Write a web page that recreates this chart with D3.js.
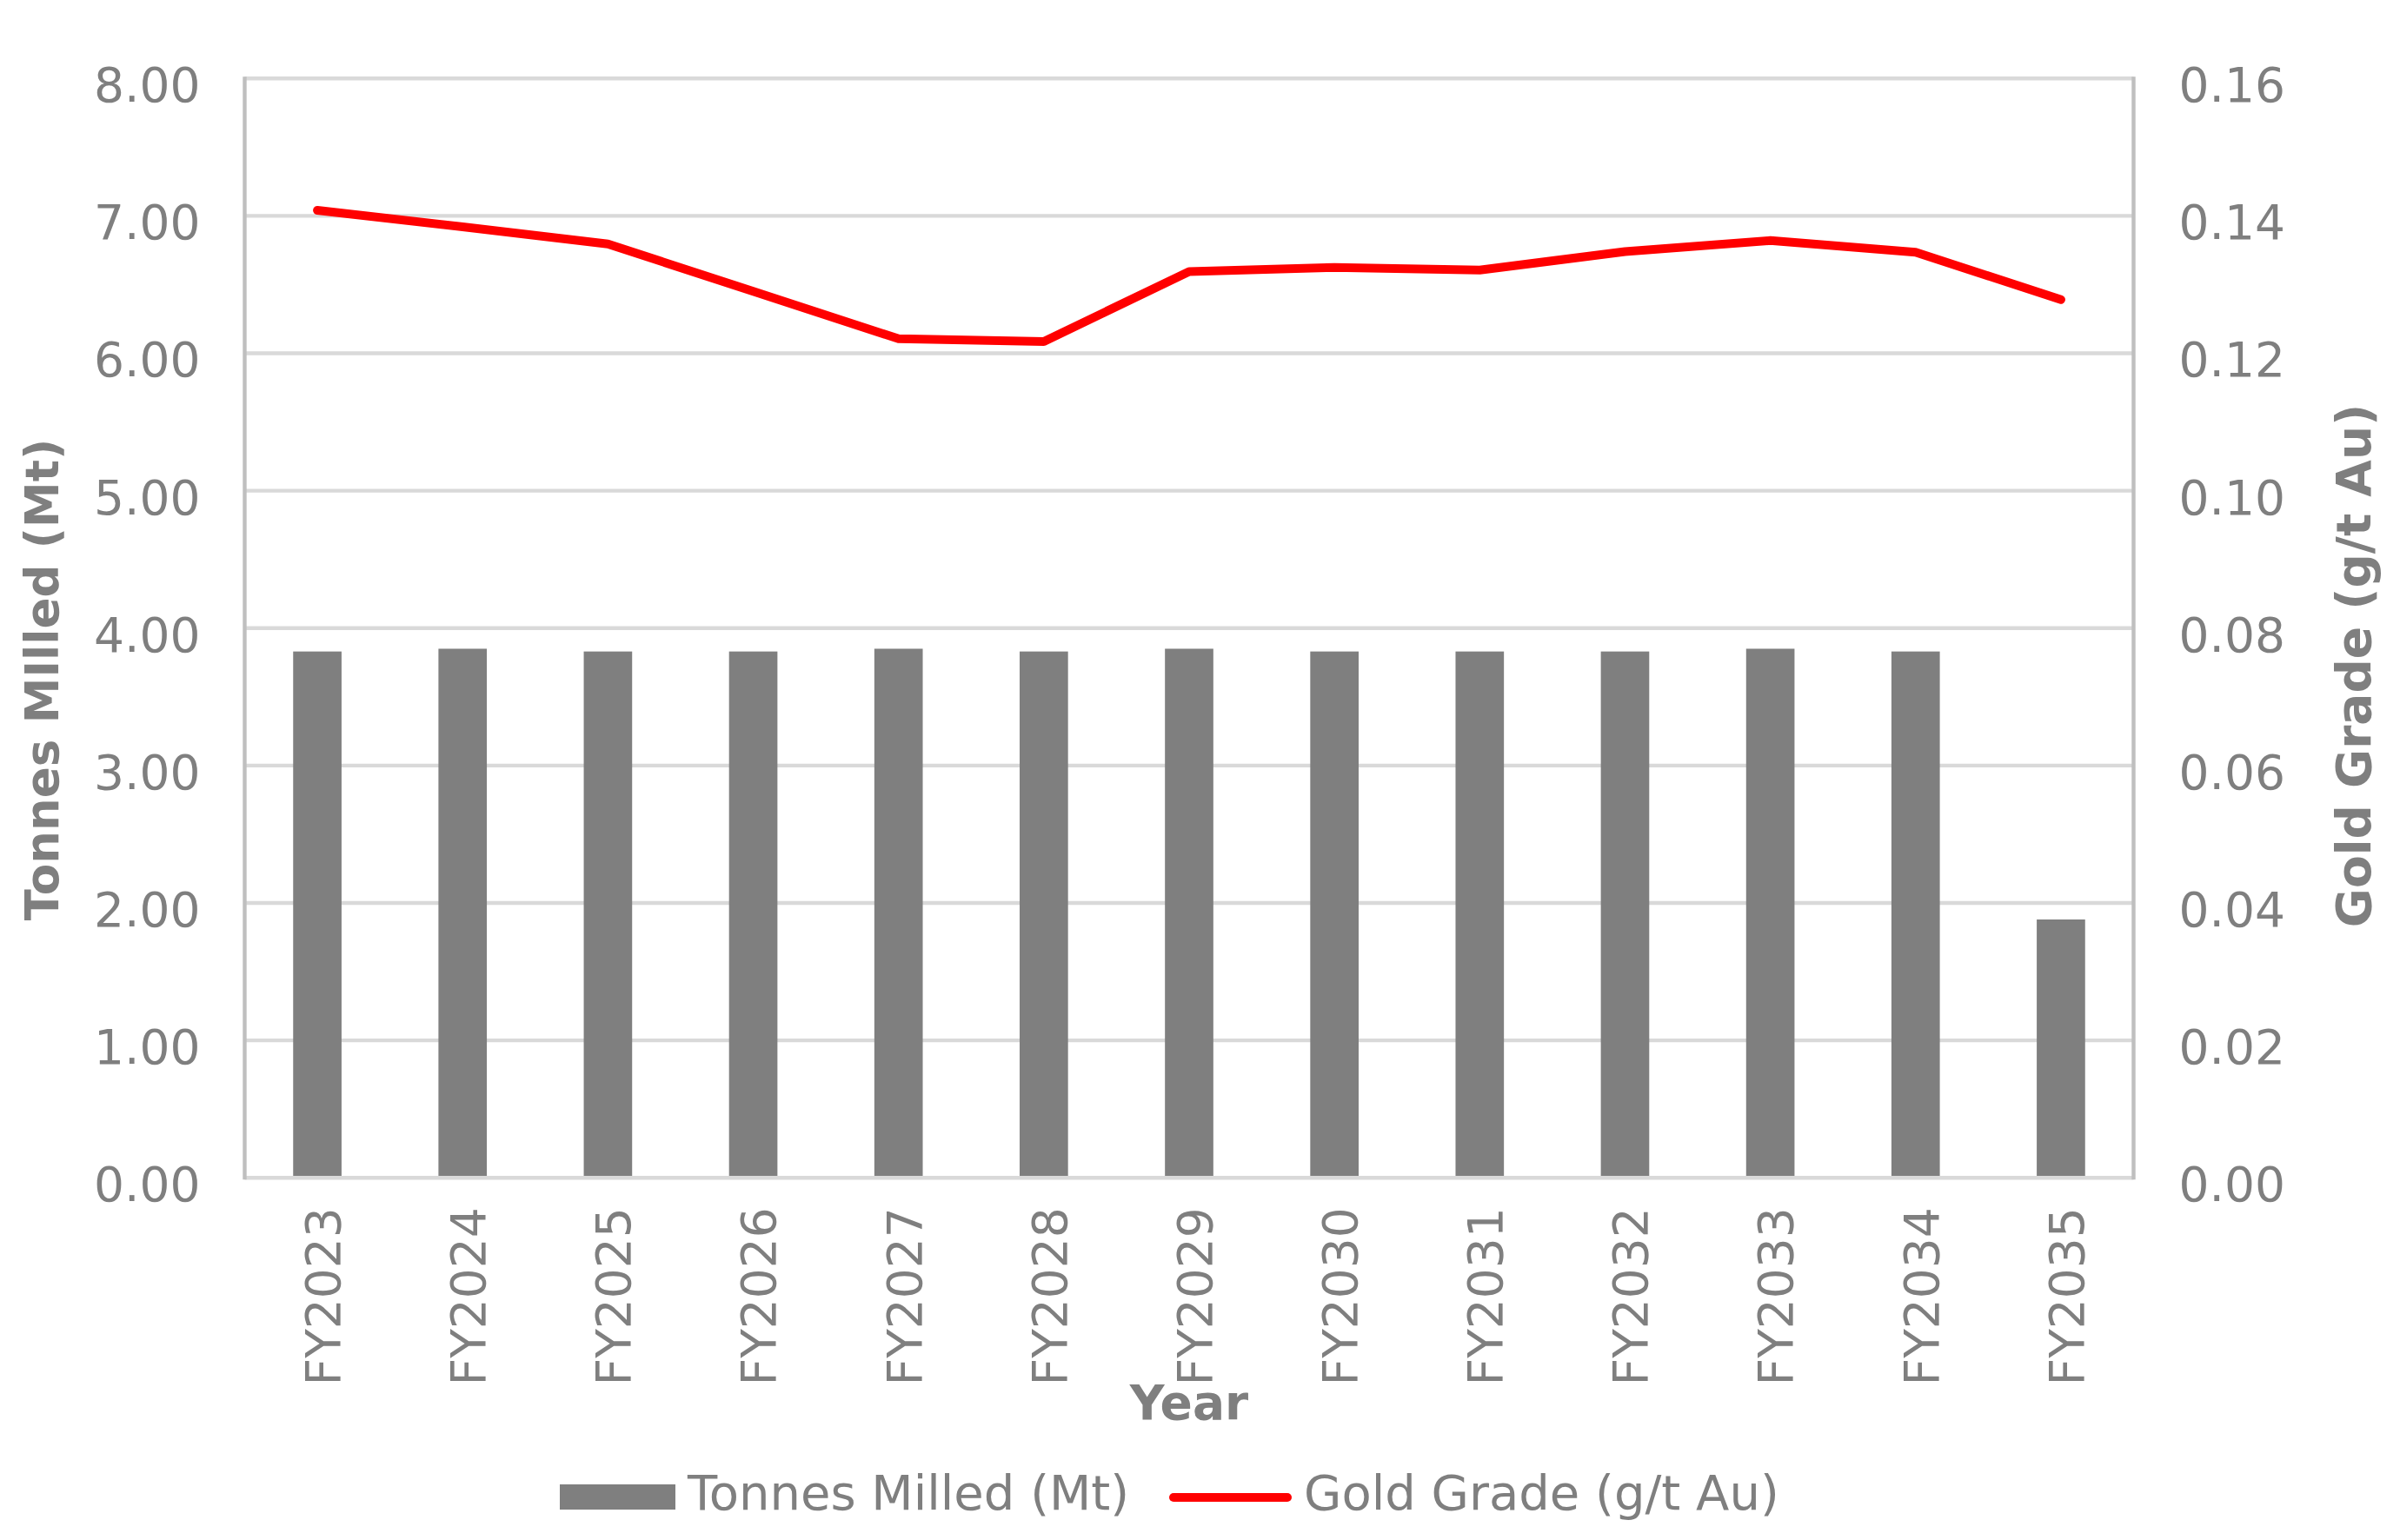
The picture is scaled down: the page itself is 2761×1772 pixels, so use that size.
<!DOCTYPE html>
<html>
<head>
<meta charset="utf-8">
<script src="https://cdn.jsdelivr.net/npm/d3@7"></script>
<style>
  html, body { margin: 0; padding: 0; background: #ffffff; }
  svg { display: block; }
  text { font-family: "DejaVu Sans", sans-serif; fill: #7f7f7f; }
</style>
</head>
<body>
<svg id="chart" width="2761" height="1772"></svg>
<script>
const categories = ["FY2023","FY2024","FY2025","FY2026","FY2027","FY2028","FY2029","FY2030","FY2031","FY2032","FY2033","FY2034","FY2035"];
const tonnesMilled = [3.83, 3.85, 3.83, 3.83, 3.85, 3.83, 3.85, 3.83, 3.83, 3.83, 3.85, 3.83, 1.88];
const goldGrade = [0.1408, 0.1384, 0.1359, 0.1290, 0.1221, 0.1217, 0.1319, 0.1325, 0.1321, 0.1348, 0.1364, 0.1347, 0.1278];
const leftTicks = [0, 1, 2, 3, 4, 5, 6, 7, 8];
const rightTicks = [0, 0.02, 0.04, 0.06, 0.08, 0.10, 0.12, 0.14, 0.16];
const seriesNames = ["Tonnes Milled (Mt)", "Gold Grade (g/t Au)"];
const leftTitle = "Tonnes MIlled (Mt)";
const rightTitle = "Gold Grade (g/t Au)";
const xTitle = "Year";

const svg = d3.select("#chart");
const L = 281.5, R = 2454.5, T = 90.2, B = 1355.3;
const FS = 55;

const x = d3.scaleBand().domain(categories).range([L, R]).paddingInner(0.667).paddingOuter(0.3335);
const yL = d3.scaleLinear().domain([0, 8]).range([B, T]);
const yR = d3.scaleLinear().domain([0, 0.16]).range([B, T]);

// gridlines
svg.append("g").selectAll("line").data(leftTicks.slice(1)).join("line")
  .attr("x1", L).attr("x2", R)
  .attr("y1", d => yL(d)).attr("y2", d => yL(d))
  .attr("stroke", "#d9d9d9").attr("stroke-width", 4.4);

// bars
svg.append("g").selectAll("rect").data(categories).join("rect")
  .attr("x", d => x(d))
  .attr("width", x.bandwidth())
  .attr("y", (d, i) => yL(tonnesMilled[i]))
  .attr("height", (d, i) => yL(0) - yL(tonnesMilled[i]) - 2)
  .attr("fill", "#7f7f7f");

// axis lines
svg.append("line").attr("x1", L).attr("x2", R).attr("y1", B).attr("y2", B)
  .attr("stroke", "#d9d9d9").attr("stroke-width", 4.4);
svg.append("line").attr("x1", L).attr("x2", L).attr("y1", T - 2).attr("y2", B + 2)
  .attr("stroke", "#bfbfbf").attr("stroke-width", 4.4);
svg.append("line").attr("x1", R).attr("x2", R).attr("y1", T - 2).attr("y2", B + 2)
  .attr("stroke", "#bfbfbf").attr("stroke-width", 4.4);

// line
const line = d3.line().x((d, i) => x(categories[i]) + x.bandwidth() / 2).y(d => yR(d));
svg.append("path").datum(goldGrade)
  .attr("d", line)
  .attr("fill", "none").attr("stroke", "#ff0000").attr("stroke-width", 10)
  .attr("stroke-linejoin", "round").attr("stroke-linecap", "round");

// left axis
const gL = svg.append("g").attr("transform", `translate(${L},0)`)
  .call(d3.axisLeft(yL).tickValues(leftTicks).tickFormat(d3.format(".2f")).tickSize(0).tickPadding(51));
gL.select(".domain").remove();
gL.selectAll("text").attr("font-size", FS).attr("dy", "0.48em").attr("fill", "#7f7f7f")
  .attr("font-family", "DejaVu Sans");

// right axis
const gR = svg.append("g").attr("transform", `translate(${R},0)`)
  .call(d3.axisRight(yR).tickValues(rightTicks).tickFormat(d3.format(".2f")).tickSize(0).tickPadding(52));
gR.select(".domain").remove();
gR.selectAll("text").attr("font-size", FS).attr("dy", "0.48em").attr("fill", "#7f7f7f")
  .attr("font-family", "DejaVu Sans");

// bottom axis
const gB = svg.append("g").attr("transform", `translate(0,${B})`)
  .call(d3.axisBottom(x).tickSize(0).tickPadding(0));
gB.select(".domain").remove();
gB.selectAll("text")
  .attr("font-size", FS).attr("fill", "#7f7f7f").attr("font-family", "DejaVu Sans")
  .attr("text-anchor", "end")
  .attr("transform", "translate(0,34) rotate(-90)")
  .attr("x", 0).attr("y", 0).attr("dy", "0.47em");

// axis titles
svg.append("text").attr("transform", "translate(67,782) rotate(-90)")
  .attr("text-anchor", "middle").attr("font-size", 53).attr("font-weight", "bold").text(leftTitle);
svg.append("text").attr("transform", "translate(2727,766) rotate(-90)")
  .attr("text-anchor", "middle").attr("font-size", FS).attr("font-weight", "bold").text(rightTitle);
svg.append("text").attr("x", (L + R) / 2).attr("y", 1633)
  .attr("text-anchor", "middle").attr("font-size", FS).attr("font-weight", "bold").text(xTitle);

// legend
const lg = svg.append("g");
lg.append("rect").attr("x", 644).attr("y", 1708).attr("width", 133).attr("height", 29).attr("fill", "#7f7f7f");
lg.append("text").attr("x", 791).attr("y", 1737).attr("font-size", 56).text(seriesNames[0]);
lg.append("line").attr("x1", 1350).attr("x2", 1481).attr("y1", 1723).attr("y2", 1723)
  .attr("stroke", "#ff0000").attr("stroke-width", 10).attr("stroke-linecap", "round");
lg.append("text").attr("x", 1500).attr("y", 1737).attr("font-size", 56).text(seriesNames[1]);
</script>
</body>
</html>
